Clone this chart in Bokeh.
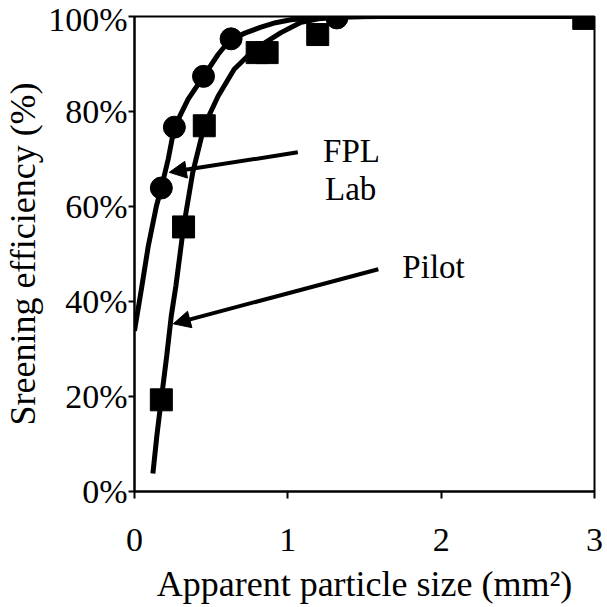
from bokeh.plotting import figure
from bokeh.models import Arrow, NormalHead, FixedTicker, Range1d
from bokeh.core.properties import value
from bokeh.embed import file_html
from bokeh.resources import INLINE

# ---- data ----
lab_x = [0.175, 0.26, 0.45, 0.63, 1.32]
lab_y = [63.9, 76.7, 87.4, 95.3, 99.7]

pilot_x = [0.175, 0.32, 0.455, 0.80, 0.865, 1.195, 2.93]
pilot_y = [19.3, 55.7, 77.0, 92.4, 92.4, 96.2, 99.6]

lab_curve_x = [0.0, 0.045, 0.09, 0.143, 0.175, 0.22, 0.26, 0.35, 0.45, 0.545, 0.62, 0.72, 0.82, 0.92, 1.02, 1.15, 1.3, 1.6, 2.0, 3.0]
lab_curve_y = [33.8, 42.6, 51.7, 60.1, 63.9, 70.0, 76.7, 82.6, 87.4, 92.0, 95.0, 96.5, 97.7, 98.7, 99.3, 99.7, 99.9, 100.0, 100.0, 100.0]

pilot_curve_x = [0.12, 0.145, 0.175, 0.21, 0.24, 0.27, 0.32, 0.38, 0.455, 0.545, 0.65, 0.78, 0.955, 1.08, 1.2, 1.35, 1.5]
pilot_curve_y = [3.8, 11.5, 19.5, 28.5, 37.0, 43.3, 55.7, 67.2, 77.0, 83.2, 88.9, 93.0, 96.6, 98.7, 99.5, 99.9, 100.0]

x_ticks = [0, 1, 2, 3]
y_ticks = [0, 20, 40, 60, 80, 100]
y_tick_labels = ["0%", "20%", "40%", "60%", "80%", "100%"]

x_label = "Apparent particle size (mm\u00b2)"
y_label = "Sreening efficiency (%)"

# annotation arrows: (x_start, y_start, x_end, y_end)
arrow_lab = (1.065, 71.4, 0.227, 67.2)
arrow_pilot = (1.59, 46.8, 0.253, 35.3)

FONT = "Liberation Serif"

p = figure(width=606, height=606, output_backend="svg", toolbar_location=None,
           x_range=Range1d(0, 3), y_range=Range1d(0, 100),
           min_border_left=132, min_border_right=12, min_border_top=16, min_border_bottom=114)
p.grid.visible = False
p.outline_line_color = "black"
p.outline_line_width = 2
p.background_fill_color = "white"
p.border_fill_color = "white"

# curves
p.line(lab_curve_x, lab_curve_y, line_color="black", line_width=5)
p.line(pilot_curve_x, pilot_curve_y, line_color="black", line_width=5)

# markers
p.scatter(lab_x, lab_y, marker="circle", size=22, fill_color="black", line_color="black")
p.scatter(pilot_x, pilot_y, marker="square", size=22, fill_color="black", line_color="black")

# arrows
for (xs, ys, xe, ye) in [arrow_lab, arrow_pilot]:
    p.add_layout(Arrow(end=NormalHead(size=17, fill_color="black", line_color="black"),
                       x_start=xs, y_start=ys, x_end=xe, y_end=ye,
                       line_width=4, line_color="black"))

# annotation texts
p.text(x=[1.415, 1.41], y=[71.6, 63.7], text=["FPL", "Lab"], text_align="center",
       text_baseline="alphabetic", text_font=value(FONT), text_font_size="33px", text_color="black")
p.text(x=[1.747], y=[47.3], text=["Pilot"], text_align="left",
       text_baseline="alphabetic", text_font=value(FONT), text_font_size="33px", text_color="black")

# axes
p.xaxis.ticker = FixedTicker(ticks=x_ticks)
p.yaxis.ticker = FixedTicker(ticks=y_ticks)
p.yaxis.major_label_overrides = {t: l for t, l in zip(y_ticks, y_tick_labels)}
for ax in (p.xaxis[0], p.yaxis[0]):
    ax.axis_line_width = 2
    ax.axis_line_color = "black"
    ax.major_tick_line_width = 2
    ax.major_tick_line_color = "black"
    ax.major_tick_in = 0
    ax.minor_tick_line_color = None
    ax.major_label_text_font = FONT
    ax.major_label_text_color = "black"
    ax.axis_label_text_font = FONT
    ax.axis_label_text_font_style = "normal"
    ax.axis_label_text_color = "black"

p.xaxis.major_tick_out = 7
p.yaxis.major_tick_out = 6
p.xaxis.major_label_text_font_size = "34px"
p.yaxis.major_label_text_font_size = "34px"
p.xaxis.major_label_standoff = 30
p.yaxis.major_label_standoff = 1
p.xaxis.axis_label = x_label
p.yaxis.axis_label = y_label
p.xaxis.axis_label_text_font_size = "36px"
p.yaxis.axis_label_text_font_size = "36px"
p.xaxis.axis_label_standoff = 10
p.yaxis.axis_label_standoff = 2

open("out.html", "w").write(file_html(p, INLINE))
